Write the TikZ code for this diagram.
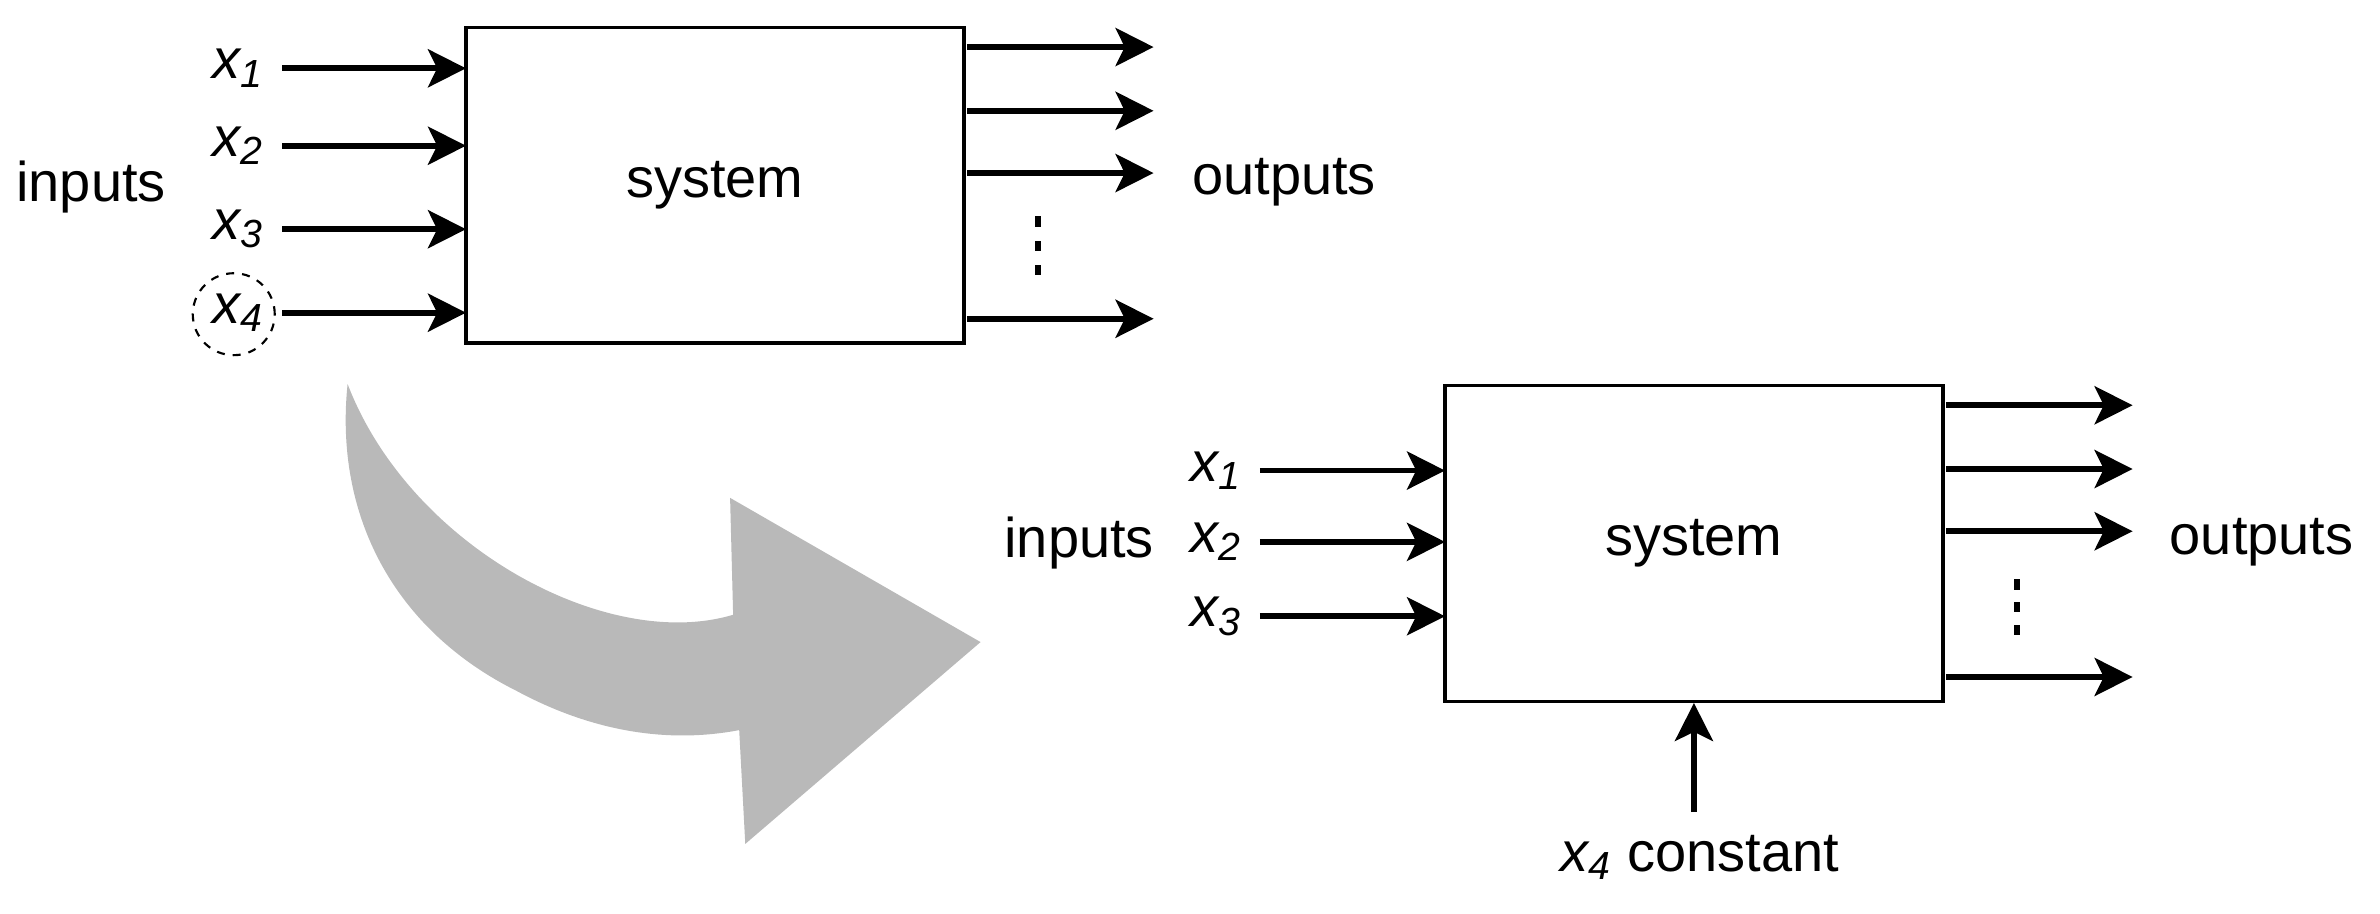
\documentclass[tikz,border=0pt]{standalone}
\usepackage{fontspec}
\setmainfont{Liberation Sans}
\usetikzlibrary{arrows.meta}
\newcommand{\xv}[1]{\textit{x}\textsubscript{\kern-0.05em\textit{#1}}}
\begin{document}
\begin{tikzpicture}[x=0.02cm,y=-0.02cm,
  txt/.style={font=\fontsize{21}{25}\selectfont,inner sep=0pt},
  box/.style={draw,line width=1.3pt},
  arr/.style={line width=2.2pt,-{Stealth[length=0.5cm,width=0.5cm,inset=0.12cm]}}]
\useasboundingbox (0,0) rectangle (1568,602);
% grey arrow
\fill[gray!55] (229,253) .. controls (270,360) and (400,430) .. (483,405) -- (481,328) -- (646,423) -- (491,556) -- (487,481)
  .. controls (440,490) and (390,482) .. (340,455) .. controls (260,415) and (220,340) .. (229,253) -- cycle;
% top system
\node[box,minimum width=328*0.02cm,minimum height=208*0.02cm,txt] (s1) at (471,122) {system};
\node[txt] (in1) at (60,123) {inputs};
\node[txt] (o1) at (846,120) {outputs};
\foreach \y/\i in {45/1,96/2,151/3,206/4}{
  \node[txt] (a\i) at (157,\y) {\xv{\i}};
  \coordinate (as\i) at (186,\y);
  \coordinate (ae\i) at (307,\y);
  \draw[arr] (as\i) -- (ae\i);
}
\node[draw,dashed,circle,minimum size=54*0.02cm,line width=0.8pt] (c4) at (154,207) {};
\foreach \y/\i in {31/1,73/2,114/3,210/4}{
  \coordinate (bs\i) at (637,\y);
  \coordinate (be\i) at (760,\y);
  \draw[arr] (bs\i) -- (be\i);
}
\foreach \y in {146,162,178} \fill (682,\y-3.5) rectangle (686,\y+3.5);
% bottom system
\node[box,minimum width=328*0.02cm,minimum height=208*0.02cm,txt] (s2) at (1116,358) {system};
\node[txt] (in2) at (711,358) {inputs};
\node[txt] (o2) at (1490,357) {outputs};
\foreach \y/\i in {310/1,357/2,406/3}{
  \node[txt] (d\i) at (801,\y) {\xv{\i}};
  \coordinate (ds\i) at (830,\y);
  \coordinate (de\i) at (952,\y);
  \draw[arr] (ds\i) -- (de\i);
}
\foreach \y/\i in {267/1,309/2,350/3,446/4}{
  \coordinate (es\i) at (1282,\y);
  \coordinate (ee\i) at (1405,\y);
  \draw[arr] (es\i) -- (ee\i);
}
\foreach \y in {385,400,415} \fill (1327,\y-3.5) rectangle (1331,\y+3.5);
\node[txt] (k) at (1120,565) {\xv{4} constant};
\coordinate (ks) at (1116,535);
\draw[arr] (ks) -- (s2.south -| ks);
\end{tikzpicture}
\end{document}
